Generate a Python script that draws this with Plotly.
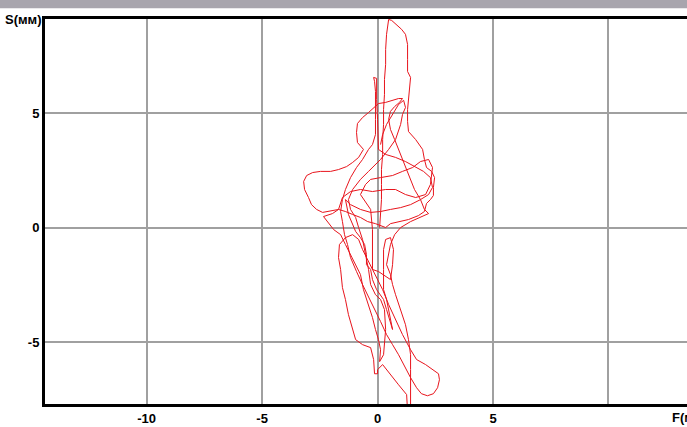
import plotly.graph_objects as go

# Stabilogram trajectory: F (frontal, mm) and S (sagittal, mm)
F = [0.09, 0.13, 0.17, 0.17, 0.17, 0.22, 0.22, 0.26, 0.26, 0.30, 0.30, 0.35, 0.35, 0.39, 0.43, 0.48,
     0.61, 0.74, 0.87, 1.04, 1.21, 1.30, 1.30, 1.30, 1.43, 1.39, 1.34, 1.30, 1.30, 1.34, 1.65, 1.95,
     2.03, 2.12, 2.34, 2.47, 2.42, 2.42, 2.29, 2.12, 2.03, 1.77, 1.34, 0.91, 0.56, 0.35,
     -0.09, -0.43, -0.74, -1.08, -1.39, -1.69, -2.03, -2.38, -2.64, -2.86, -2.99, -3.16, -3.20, -3.07,
     -2.81, -2.47, -2.03, -1.69, -1.34, -1.08, -0.82, -0.61, -0.87, -0.91, -0.87, -0.65, -0.39, -0.17,
     0.04, 0.35, 0.65, 0.91, 1.08, 0.95, 0.74, 0.56, 0.48, 0.56, 0.74, 0.91, 1.08, 1.26, 1.43, 1.60,
     1.86, 2.03, 2.21,
     1.86, 1.43, 1.00, 0.74, 0.56, 0.48, 0.39, 0.56, 0.65, 0.78, 1.00, 1.21, 1.34, 1.43, 1.43, 1.43,
     1.43, 1.43, 1.30, 1.26, 0.91, 0.56, 0.22, 0.00, 0.00, -0.13, -0.17, -0.30, -0.65, -0.95, -1.08,
     -1.26, -1.39, -1.52, -1.60, -1.69, -1.65, -1.39, -1.08, -0.82, -0.65, -0.39, -0.09, 0.22, 0.48,
     0.78, 1.08, 1.43, 1.69, 2.08, 2.42, 2.64, 2.68, 2.60, 2.42, 2.16, 1.90, 1.69, 1.43, 1.17, 0.91,
     0.65, 0.39, 0.13, -0.13, -0.39, -0.65, -0.91, -1.17, -1.30, -1.43, -1.52, -1.60, -1.52, -1.39,
     -1.17, -0.91, -0.65, -0.39, -0.22, -0.09, -0.09, -0.09, -0.09, -0.13, -0.17, -0.04, -0.04, -0.04,
     0.00, 0.04, 0.04, 0.35, 0.78, 1.21, 1.65, 1.99, 2.29, 2.38, 2.21, 1.86, 1.43, 1.00, 0.56, 0.13,
     -0.30, -0.74, -1.17, -1.39, -1.26, -1.08, -0.95, -0.74, -0.56, -0.48, -0.48, -0.30, -0.22, -0.04,
     0.13, 0.26, 0.39, 0.52, 0.65, 0.39, 0.26, 0.26, 0.26, 0.35, 0.56, 0.69, 0.65, 0.56, 0.04, -0.22,
     -0.22, -0.22, -0.30, -0.74,
     -0.52, -0.30, 0.13, 0.65, 1.08, 1.52, 1.86, 2.21, 2.38, 2.29, 2.08, 1.65, 1.21, 0.78, 0.35, -0.22,
     -0.74, -1.17, -1.52, -1.69, -1.95, -2.34, -1.90, -1.60, -1.39, -1.17, -0.95, -0.74, -0.61, -0.39,
     -0.22, -0.09, 0.04, 0.13, 0.09, 0.26, 0.35, 0.30, 0.13, -0.09, -0.30, -0.39, -0.52, -0.65, -0.82,
     -0.95, -1.17, -1.26, -1.08, -0.74, -0.39, -0.09, 0.13, 0.48, 0.78, 1.00, 1.08, 1.21, 1.13, 0.91,
     0.65, 0.39, 0.22, 0.13]
S = [0.00, 0.57, 1.22, 1.88, 2.53, 3.19, 3.84, 4.50, 5.15, 5.81, 6.46, 7.12, 7.77, 8.43, 8.86, 9.08,
     9.04, 8.91, 8.78, 8.65, 8.43, 7.99, 7.34, 6.81, 6.55, 6.11, 5.68, 5.15, 4.63, 4.19, 3.84, 3.41,
     2.97, 2.62, 2.45, 2.18, 1.75, 1.40, 1.22, 1.05, 0.70, 0.52, 0.35, 0.26, 0.17, 0.00,
     0.17, 0.26, 0.44, 0.57, 0.70, 0.79, 0.74, 0.66, 0.79, 1.00, 1.31, 1.66, 2.01, 2.27,
     2.40, 2.45, 2.45, 2.53, 2.66, 2.84, 3.06, 3.41, 3.71, 4.15, 4.54, 4.80, 5.02, 5.24,
     5.41, 5.46, 5.55, 5.63, 5.63, 5.46, 5.28, 5.07, 4.72, 4.28, 3.84, 3.41, 2.97, 2.53, 2.10, 1.66,
     1.22, 0.79, 0.61,
     0.44, 0.26, 0.00, -0.31, -0.74, -1.18, -1.62, -2.05, -2.49, -2.93, -3.58, -4.24, -4.89, -5.55, -6.20, -6.86,
     -7.42, -8.03, -8.03, -7.29, -6.86, -6.42, -5.98, -6.20, -6.38, -6.38, -5.76, -5.24, -5.11, -4.89, -4.45,
     -3.80, -3.14, -2.62, -1.83, -1.31, -0.74, -0.44, -0.31, -0.52, -0.96, -1.48, -2.05, -2.71, -3.36,
     -4.02, -4.67, -5.33, -5.76, -5.98, -6.20, -6.38, -6.64, -6.99, -7.25, -7.34, -7.25, -6.99, -6.55, -6.03, -5.55,
     -5.11, -4.67, -4.10, -3.58, -3.06, -2.49, -1.92, -1.31, -0.74, -0.31, 0.26, 0.70, 1.22, 1.66,
     2.18, 2.62, 2.97, 3.41, 3.62, 4.06, 4.72, 5.37, 5.94, 6.38, 6.55, 6.51, 6.24, 5.59,
     4.72, 3.84, 3.41, 3.19, 3.06, 2.88, 2.62, 2.45, 2.18, 1.75, 1.44, 1.22, 1.00, 0.87, 0.79, 0.70,
     0.66, 0.79, 1.00, 1.22, 0.57, 0.13, -0.17, -0.44, -0.74, -1.18, -1.62, -1.83, -2.27, -2.71,
     -2.93, -3.14, -3.58, -4.02, -4.45, -3.14, -2.71, -1.83, -0.96, -0.52, -0.44, -0.96, -1.62, -2.27, -1.92, -1.83,
     -0.96, -0.09, 0.79, 1.44,
     1.88, 2.10, 2.18, 2.27, 2.45, 2.62, 2.88, 2.97, 2.62, 1.88, 1.44, 1.31, 1.44, 1.66, 1.66, 1.57,
     1.66, 1.57, 1.31, 0.79, 0.61, 0.48, -0.09, -0.31, -0.74, -1.18, -1.57, -2.05, -2.71, -3.36,
     -3.93, -4.45, -4.89, -5.33, -5.85, -5.55, -4.45, -3.58, -3.14, -2.93, -2.49, -1.83, -1.18, -0.52, 0.00,
     0.44, 0.79, 1.22, 1.66, 2.10, 2.45, 2.75, 2.97, 3.41, 3.84, 4.50, 4.93, 5.24, 5.55, 5.37,
     4.93, 4.50, 4.06, 3.62]

X_TICKS = [-10, -5, 0, 5, 10]
X_TICK_TEXT = ["-10", "-5", "0", "5", ""]
Y_TICKS = [-5, 0, 5]
Y_TICK_TEXT = ["-5", "0", "5"]

font_face = "Liberation Sans"

fig = go.Figure()
fig.add_trace(go.Scatter(x=F, y=S, mode="lines",
                         line=dict(color="#e8141c", width=1),
                         hoverinfo="skip", showlegend=False))

fig.update_layout(
    width=687, height=427,
    margin=dict(l=45, r=0, t=19, b=23),
    paper_bgcolor="white", plot_bgcolor="white",
    xaxis=dict(range=[-14.4, 13.4], tickvals=X_TICKS, ticktext=X_TICK_TEXT,
               showgrid=True, gridcolor="#a0a0a0", gridwidth=1.5, zeroline=False,
               showline=True, linecolor="black", linewidth=3, mirror=True,
               ticks="", tickfont=dict(family=font_face, size=13, color="black", weight="bold"),
               fixedrange=True),
    yaxis=dict(range=[-7.7, 9.1], tickvals=Y_TICKS, ticktext=Y_TICK_TEXT,
               showgrid=True, gridcolor="#a0a0a0", gridwidth=1.5, zeroline=False,
               showline=True, linecolor="black", linewidth=3, mirror=False,
               ticks="", tickfont=dict(family=font_face, size=13, color="black", weight="bold"),
               fixedrange=True),
    shapes=[dict(type="rect", xref="paper", yref="paper", x0=-0.1, x1=1.1,
                 y0=1.028, y1=1.07, fillcolor="#a8a5ad", line=dict(width=0), layer="above")],
    annotations=[
        dict(text="S(мм)", xref="paper", yref="paper", x=0, y=1.0, xanchor="right",
             yanchor="middle", showarrow=False, xshift=-1,
             font=dict(family=font_face, size=13, color="black", weight="bold")),
        dict(text="F(мм)", xref="paper", yref="paper", x=0.974, y=0, xanchor="left",
             yanchor="top", showarrow=False, yshift=-4,
             font=dict(family=font_face, size=13, color="black", weight="bold")),
    ],
)

fig.write_html("out.html", config={"displayModeBar": False},
               post_script="document.body.style.margin='0';document.body.style.overflow='hidden';")
